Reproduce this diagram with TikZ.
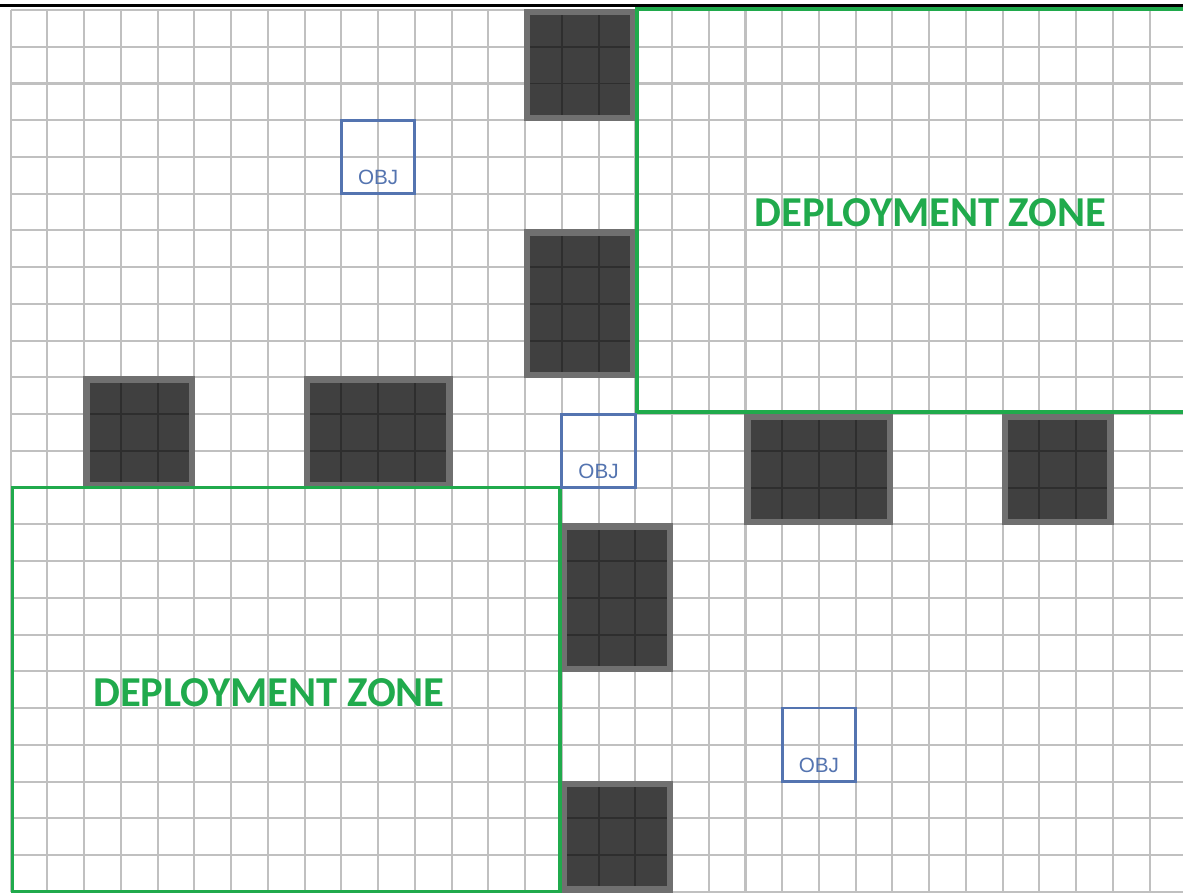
\documentclass[tikz,border=0pt]{standalone}
\usepackage{fontspec}
\newfontfamily\zonefont{Carlito}
\newfontfamily\objfont{Liberation Sans}
\usetikzlibrary{calc}
\definecolor{gridgray}{RGB}{192,192,192}
\definecolor{ruinfill}{RGB}{64,64,64}
\definecolor{ruinline}{RGB}{46,46,46}
\definecolor{ruinedge}{RGB}{112,112,112}
\definecolor{zonegreen}{RGB}{32,170,76}
\definecolor{objblue}{RGB}{84,116,176}
\tikzset{
	gridline/.style={draw=gridgray, line width=1.6pt},
	ruin/.style={fill=ruinfill},
	ruingrid/.style={draw=ruinline, line width=1.5pt},
	ruinborder/.style={draw=ruinedge, line width=5pt},
	zone/.style={draw=zonegreen, line width=2.8pt},
	objbox/.style={draw=objblue, line width=2.2pt},
	objlabel/.style={text=objblue, inner sep=0pt, font=\objfont\fontsize{16}{16}\selectfont},
	zonelabel/.style={text=zonegreen, inner sep=0pt, font=\zonefont\bfseries\fontsize{33}{33}\selectfont},
}
\begin{document}
\begin{tikzpicture}[y=-1cm]
		\useasboundingbox (-0.291,-0.272) rectangle (31.908,24.034);
		\clip (-0.291,-0.272) rectangle (31.908,24.034);
		\fill[white] (-0.291,-0.272) rectangle (31.908,24.034);
		% board: 32 x 24 squares
		\foreach \c in {0,...,32} \draw[gridline] (\c,0) -- (\c,24);
		\foreach \r in {0,...,24} \draw[gridline] (0,\r) -- (32,\r);
		% ruins (left/top/right/bottom in squares)
		\foreach \xa/\ya/\xb/\yb in {14/0/17/3, 14/6/17/10, 2/10/5/13, 8/10/12/13, 15/14/18/18, 15/21/18/24, 20/11/24/14, 27/11/30/14} {
			\fill[ruin] (\xa,\ya) rectangle (\xb,\yb);
			\foreach \c in {\xa,...,\xb} \draw[ruingrid] (\c,\ya) -- (\c,\yb);
			\foreach \r in {\ya,...,\yb} \draw[ruingrid] (\xa,\r) -- (\xb,\r);
			\draw[ruinborder] (\xa+0.06,\ya+0.06) rectangle (\xb-0.06,\yb-0.06);
		}
		% deployment zones
		\draw[zone] (17.04,-0.03) rectangle (32.5,10.95);
		\draw[zone] (0.05,13) rectangle (14.95,23.99);
		\node[zonelabel] (dzA) at (25.04,5.51) {DEPLOYMENT ZONE};
		\node[zonelabel] (dzB) at (7.03,18.57) {DEPLOYMENT ZONE};
		% objectives
		\foreach \xo/\yo/\nm in {9/3/objA, 15/11/objB, 21/19/objC} {
			\draw[objbox] (\xo,\yo) rectangle (\xo+2,\yo+2);
			\node[objlabel] (\nm) at (\xo+1,\yo+1.56) {OBJ};
		}
		% top edge of the sheet
		\draw[line width=2.4pt] (-0.3,-0.13) -- (32,-0.13);
	\end{tikzpicture}
\end{document}
